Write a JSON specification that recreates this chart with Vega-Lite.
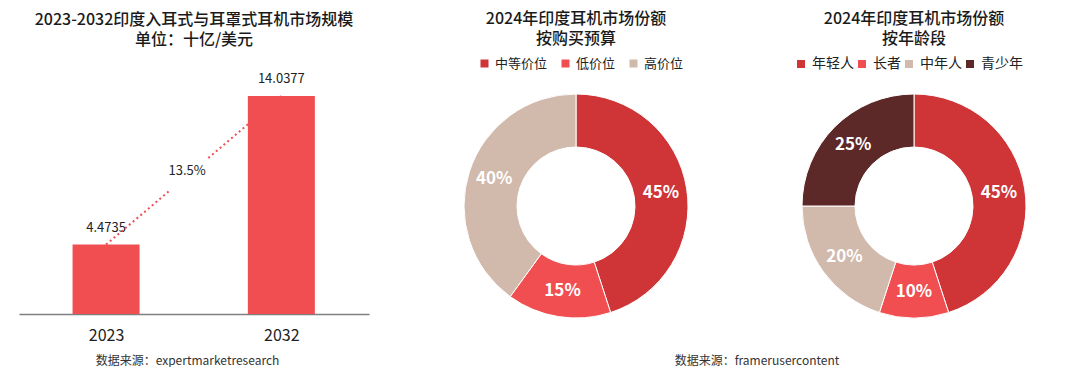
{
  "$schema": "https://vega.github.io/schema/vega-lite/v6.json",
  "background": "white",
  "padding": {"left": 19, "top": 11, "right": 0, "bottom": 0},
  "config": {
    "font": "Noto Sans CJK SC",
    "view": {"stroke": null},
    "title": {"fontSize": 16, "fontWeight": 500, "color": "#1a1a1a", "lineHeight": 20, "anchor": "middle"},
    "legend": {"labelFont": "Noto Sans CJK SC"}
  },
  "spacing": 57,
  "hconcat": [
    {
      "width": 350,
      "height": 220,
      "title": {"text": ["2023-2032印度入耳式与耳罩式耳机市场规模", "单位：十亿/美元"], "offset": 25, "lineHeight": 20},
      "data": {"values": [
        {"year": 2023, "value": 4.4735, "label": "4.4735"},
        {"year": 2032, "value": 14.0377, "label": "14.0377"}
      ]},
      "layer": [
        {
          "mark": {"type": "bar", "size": 67, "color": "#F04E51"},
          "encoding": {
            "x": {"field": "year", "type": "quantitative",
              "scale": {"domain": [2018.53, 2036.5], "nice": false, "zero": false, "padding": 0},
              "axis": {"values": [2023, 2032], "format": "d", "grid": false, "ticks": false,
                "labelFontSize": 16, "labelColor": "#222", "labelPadding": 13,
                "domainColor": "#7f7f7f", "domainWidth": 1.5,
                "title": "数据来源：expertmarketresearch", "titleFontSize": 12, "titleFontWeight": "normal",
                "titleColor": "#333", "titlePadding": 12, "titleX": 168}},
            "y": {"field": "value", "type": "quantitative", "scale": {"domain": [0, 14.167], "nice": false}, "axis": null}
          }
        },
        {
          "mark": {"type": "text", "dy": -17, "fontSize": 13, "color": "#222"},
          "encoding": {
            "x": {"field": "year", "type": "quantitative"},
            "y": {"field": "value", "type": "quantitative"},
            "text": {"field": "label"}
          }
        },
        {
          "data": {"values": [
            {"x": 2023, "y": 4.4735, "x2": 2026.25, "y2": 7.93},
            {"x": 2028.25, "y": 10.05, "x2": 2032, "y2": 14.0377}
          ]},
          "mark": {"type": "rule", "color": "#F04E51", "strokeDash": [2, 3], "strokeWidth": 2},
          "encoding": {
            "x": {"field": "x", "type": "quantitative"},
            "y": {"field": "y", "type": "quantitative"},
            "x2": {"field": "x2"},
            "y2": {"field": "y2"}
          }
        },
        {
          "data": {"values": [{"x": 2027.16, "y": 9.21, "label": "13.5%"}]},
          "mark": {"type": "text", "fontSize": 13, "color": "#222"},
          "encoding": {
            "x": {"field": "x", "type": "quantitative"},
            "y": {"field": "y", "type": "quantitative"},
            "text": {"field": "label"}
          }
        }
      ]
    },
    {
      "spacing": 38,
      "title": {"text": "数据来源：framerusercontent", "orient": "bottom", "fontSize": 12, "fontWeight": "normal", "color": "#333", "offset": 36, "dx": 12},
      "resolve": {"scale": {"color": "independent", "theta": "independent"}, "legend": {"color": "independent"}},
      "hconcat": [
        {
          "width": 300,
          "height": 224,
          "title": {"text": ["2024年印度耳机市场份额", "按购买预算"], "offset": 10, "lineHeight": 20},
          "data": {"values": [
            {"category": "中等价位", "share": 45, "order": 1, "label": "45%"},
            {"category": "低价位", "share": 15, "order": 2, "label": "15%"},
            {"category": "高价位", "share": 40, "order": 3, "label": "40%"}
          ]},
          "encoding": {
            "theta": {"field": "share", "type": "quantitative", "stack": true},
            "order": {"field": "order", "type": "quantitative"}
          },
          "layer": [
            {
              "mark": {"type": "arc", "outerRadius": 112, "innerRadius": 59, "stroke": "white", "strokeWidth": 1},
              "encoding": {
                "color": {"field": "category", "type": "nominal",
                  "scale": {"domain": ["中等价位", "低价位", "高价位"], "range": ["#CF3437", "#F04E51", "#D1BAAC"]},
                  "legend": {"orient": "none", "legendX": 52, "legendY": -37, "direction": "horizontal",
                    "gridAlign": "none",
                    "symbolType": "square", "symbolSize": 64, "symbolStrokeWidth": 0, "labelFontSize": 13,
                    "labelColor": "#222", "title": null, "columnPadding": 11, "labelOffset": 4}}
              }
            },
            {
              "mark": {"type": "text", "radius": 86, "fontSize": 17, "fontWeight": "bold", "color": "white"},
              "encoding": {"text": {"field": "label"}}
            }
          ]
        },
        {
          "width": 300,
          "height": 224,
          "title": {"text": ["2024年印度耳机市场份额", "按年龄段"], "offset": 10, "lineHeight": 20},
          "data": {"values": [
            {"category": "年轻人", "share": 45, "order": 1, "label": "45%"},
            {"category": "长者", "share": 10, "order": 2, "label": "10%"},
            {"category": "中年人", "share": 20, "order": 3, "label": "20%"},
            {"category": "青少年", "share": 25, "order": 4, "label": "25%"}
          ]},
          "encoding": {
            "theta": {"field": "share", "type": "quantitative", "stack": true},
            "order": {"field": "order", "type": "quantitative"}
          },
          "layer": [
            {
              "mark": {"type": "arc", "outerRadius": 112, "innerRadius": 59, "stroke": "white", "strokeWidth": 1},
              "encoding": {
                "color": {"field": "category", "type": "nominal",
                  "scale": {"domain": ["年轻人", "长者", "中年人", "青少年"], "range": ["#CF3437", "#F04E51", "#D1BAAC", "#5C2828"]},
                  "legend": {"orient": "none", "legendX": 30, "legendY": -37, "direction": "horizontal",
                    "gridAlign": "none",
                    "symbolType": "square", "symbolSize": 64, "symbolStrokeWidth": 0, "labelFontSize": 14,
                    "labelColor": "#222", "title": null, "columnPadding": 1, "labelOffset": 4}}
              }
            },
            {
              "mark": {"type": "text", "radius": 86, "fontSize": 17, "fontWeight": "bold", "color": "white"},
              "encoding": {"text": {"field": "label"}}
            }
          ]
        }
      ]
    }
  ]
}
